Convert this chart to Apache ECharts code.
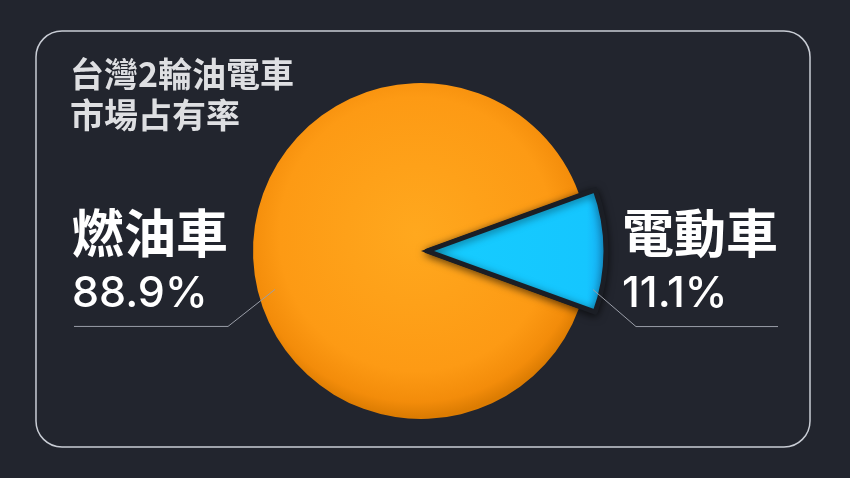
<!DOCTYPE html>
<html>
<head>
<meta charset="utf-8">
<script src="https://cdn.jsdelivr.net/npm/echarts@6/dist/echarts.min.js"></script>
<style>
html,body{margin:0;padding:0;background:#22252e;}
#main{width:850px;height:478px;}
</style>
</head>
<body>
<div id="main"></div>
<script>
const titleLines = ['台灣2輪油電車', '市場占有率'];
const categories = ['燃油車', '電動車'];
const shares = [88.9, 11.1];

const W = 850;
const chart = echarts.init(document.getElementById('main'), null, {renderer: 'canvas'});
const FONT = '"Noto Sans CJK TC", "Noto Sans", sans-serif';
const NUMFONT = 'Inter, "Noto Sans", sans-serif';

const orangeFill = {
  type: 'radial', x: 0.5, y: 0.45, r: 0.56,
  colorStops: [
    {offset: 0, color: '#ffa81e'},
    {offset: 0.75, color: '#fd9a14'},
    {offset: 0.92, color: '#f38c0a'},
    {offset: 1, color: '#dc7c02'}
  ]
};
const blueFill = {
  type: 'linear', x: 0, y: 0, x2: 1, y2: 0,
  colorStops: [
    {offset: 0, color: '#16cdff'},
    {offset: 0.88, color: '#15c6ff'},
    {offset: 1, color: '#19a6ef'}
  ]
};

function labelLayout(params) {
  const r = params.labelRect;
  const isLeft = r.x + r.width / 2 < W / 2;
  const dy = 13;
  const lineY = r.y + dy + r.height + 11;
  const endX = isLeft ? r.x + 2 : r.x + r.width;
  const bendX = isLeft ? r.x + r.width : r.x + 14;
  const startX = isLeft ? bendX + 47 : bendX - 43;
  return {
    dy: dy,
    labelLinePoints: [[startX, lineY - 37], [bendX, lineY], [endX, lineY]]
  };
}

const labelBase = {
  show: true,
  alignTo: 'edge',
  edgeDistance: 72,
  formatter: '{n|{b}}\n{v|{c}%}',
  rich: {
    n: {fontSize: 52, fontWeight: 'bold', color: '#ffffff', lineHeight: 60, fontFamily: FONT, align: 'left'},
    v: {fontSize: 43, fontWeight: 500, color: '#ffffff', lineHeight: 62, fontFamily: NUMFONT, align: 'left'}
  }
};
const lineBase = {show: true, length: 10, length2: 20, lineStyle: {color: '#9a9ea8', width: 1}};
const hidden = {color: 'transparent', borderWidth: 0};

const baseData = categories.map((name, i) => ({
  name, value: shares[i],
  itemStyle: i === 0 ? {color: orangeFill} : hidden
}));
const topData = categories.map((name, i) => (i === 1 ? {
  name, value: shares[i], selected: true,
  itemStyle: {color: blueFill, borderColor: '#1b1e25', borderWidth: 5,
    shadowBlur: 8, shadowColor: 'rgba(0,0,0,0.55)', shadowOffsetY: 2}
} : {name, value: shares[i], itemStyle: hidden}));
const labelData = categories.map((name, i) => ({
  name, value: shares[i], itemStyle: hidden
}));

const pieCommon = {
  type: 'pie', silent: true, center: [421, 251], startAngle: 340,
  clockwise: true, avoidLabelOverlap: false,
  emphasis: {disabled: true}
};

chart.setOption({
  backgroundColor: '#22252e',
  animation: false,
  title: {
    text: titleLines.join('\n'),
    left: 70, top: 54, padding: 0,
    textStyle: {fontFamily: FONT, fontSize: 34, fontWeight: 'bold', color: '#dedfe2', lineHeight: 41}
  },
  graphic: [{
    type: 'rect',
    shape: {x: 36, y: 31, width: 774, height: 416, r: 26},
    style: {fill: 'transparent', stroke: '#c9cdd5', lineWidth: 1.5},
    silent: true, z: -1
  }],
  series: [
    Object.assign({}, pieCommon, {
      z: 2, radius: 168, label: {show: false}, labelLine: {show: false}, data: baseData
    }),
    Object.assign({}, pieCommon, {
      z: 3, radius: 179, selectedMode: 'single', selectedOffset: 6,
      label: {show: false}, labelLine: {show: false}, data: topData
    }),
    Object.assign({}, pieCommon, {
      z: 6, radius: 179, label: labelBase, labelLine: lineBase,
      labelLayout: labelLayout, data: labelData
    })
  ]
});
</script>
</body>
</html>
